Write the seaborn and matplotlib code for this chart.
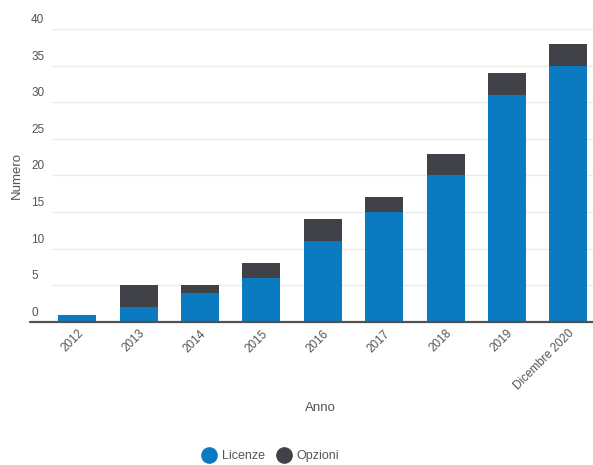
import matplotlib
matplotlib.use("Agg")
import matplotlib.pyplot as plt
from matplotlib.lines import Line2D
import matplotlib.transforms as mtransforms
import pandas as pd
import seaborn as sns

anni = ["2012", "2013", "2014", "2015", "2016", "2017", "2018", "2019", "Dicembre 2020"]
licenze = [1, 2, 4, 6, 11, 15, 20, 31, 35]
opzioni = [0, 3, 1, 2, 3, 2, 3, 3, 3]
y_ticks = [0, 5, 10, 15, 20, 25, 30, 35, 40]

BLUE = "#0A7BC0"
DARK = "#414247"
TEXT = "#555555"

sns.set_theme(style="white")
plt.rcParams["font.family"] = ["Liberation Sans", "DejaVu Sans"]

df = pd.DataFrame({"Anno": anni, "Licenze": licenze, "Opzioni": opzioni})
df["Totale"] = df["Licenze"] + df["Opzioni"]

fig = plt.figure(figsize=(5.93, 4.65), dpi=100)
ax = fig.add_axes([52 / 593, 143 / 465, 1 - 52 / 593, (322 - 29) / 465])

# stacked bars: total in dark grey, licences drawn over it in blue
sns.barplot(data=df, x="Anno", y="Totale", color=DARK, width=0.62,
            saturation=1, linewidth=0, edgecolor="none", ax=ax, zorder=3)
sns.barplot(data=df, x="Anno", y="Licenze", color=BLUE, width=0.62,
            saturation=1, linewidth=0, edgecolor="none", ax=ax, zorder=4)

ax.set_xlim(-0.41, 8.4)
ax.set_ylim(0, 40)
ax.set_yticks(y_ticks)
ax.set_yticklabels([str(t) for t in y_ticks])
ax.grid(axis="y", color="#EBEBEB", linewidth=1.0, zorder=0)
ax.grid(axis="x", visible=False)
for s in ax.spines.values():
    s.set_visible(False)
ax.axhline(0, xmin=-0.04, xmax=1, color="#505050", linewidth=1.6,
           clip_on=False, zorder=5)

ax.tick_params(axis="y", length=0, pad=15, labelsize=8.5, labelcolor=TEXT)
lift = mtransforms.ScaledTranslation(0, 3 / 100, fig.dpi_scale_trans)
for lab in ax.get_yticklabels():
    lab.set_ha("left")
    lab.set_va("bottom")
    lab.set_transform(lab.get_transform() + lift)

ax.tick_params(axis="x", length=0, pad=4, labelsize=8.5, labelcolor=TEXT)
for lab in ax.get_xticklabels():
    lab.set_rotation(45)
    lab.set_ha("right")
    lab.set_rotation_mode("anchor")

ax.set_xlabel("Anno", fontsize=9.5, color=TEXT)
ax.set_ylabel("Numero", fontsize=9.5, color=TEXT, labelpad=6)
ax.xaxis.set_label_coords(268 / 541, -(402 - 322) / 293)

handles = [
    Line2D([], [], marker="o", linestyle="", markersize=11,
           markerfacecolor=BLUE, markeredgecolor=BLUE),
    Line2D([], [], marker="o", linestyle="", markersize=11,
           markerfacecolor=DARK, markeredgecolor=DARK),
]
fig.legend(handles, ["Licenze", "Opzioni"], loc="center", ncol=2,
           bbox_to_anchor=(271 / 593, 1 - 456 / 465), frameon=False,
           fontsize=9, labelcolor=TEXT, handletextpad=0.5,
           columnspacing=1.0, handlelength=1.0)

fig.savefig("out.png", dpi=100)
